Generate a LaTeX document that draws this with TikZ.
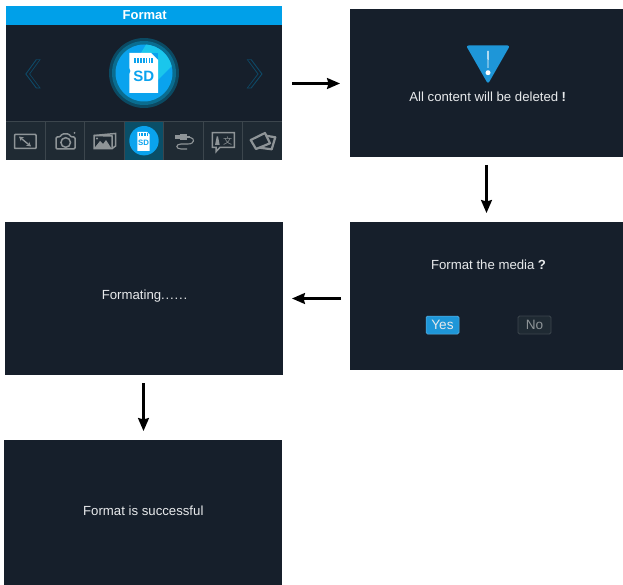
\documentclass[tikz,border=0pt]{standalone}
\usepackage{fontspec}
\setmainfont{Liberation Sans}
\newfontfamily\cjkfont{Noto Sans CJK SC}
\usetikzlibrary{arrows.meta,calc}
\definecolor{panelbg}{HTML}{161F2B}
\definecolor{titleblue}{HTML}{00A0E9}
\definecolor{stripbg}{HTML}{1F2A33}
\definecolor{stripline}{HTML}{3C464D}
\definecolor{teal}{HTML}{0A4F68}
\definecolor{ringa}{HTML}{0B4A63}
\definecolor{ringb}{HTML}{0A6D90}
\definecolor{sdblue}{HTML}{0AA3EE}
\definecolor{sdlight}{HTML}{1AC6EC}
\definecolor{iconcol}{HTML}{8E9497}
\definecolor{warnblue}{HTML}{1E96D8}
\definecolor{chev}{HTML}{0E4A68}
\definecolor{txt}{HTML}{E8EAEC}
\tikzset{
  panel/.style={fill=panelbg,draw=none,inner sep=0pt,outer sep=0pt,anchor=center},
  flow/.style={draw=black,line width=2.1pt,-{Stealth[length=13pt,width=11pt,inset=1.5pt]}},
  msg/.style={text=txt,inner sep=0pt,font=\fontsize{13.2}{15}\selectfont,anchor=base},
  btn/.style={rounded corners=1.5pt,inner sep=0pt,minimum width=33pt,minimum height=18pt,font=\fontsize{13.6}{15}\selectfont},
  ico/.style={draw=iconcol,line width=1.5pt,fill=none},
  icof/.style={fill=iconcol,draw=none},
  cell/.style={draw=stripline,line width=0.8pt}
}
\begin{document}
\begin{tikzpicture}[x=1pt,y=-1pt]
\useasboundingbox (0,0) rectangle (623,585);
\fill[white] (0,0) rectangle (623,585);
% panels
\node[panel,minimum width=276pt,minimum height=154pt] (p1) at (144,83) {};
\node[panel,minimum width=273pt,minimum height=148pt] (p2) at (486.5,83) {};
\node[panel,minimum width=273pt,minimum height=148pt] (p3) at (486.5,296) {};
\node[panel,minimum width=278pt,minimum height=153pt] (p4) at (144,298.5) {};
\node[panel,minimum width=278pt,minimum height=145pt] (p5) at (143,512.5) {};
% panel 1: title
\fill[titleblue] (6,6) rectangle (282,25);
\node[text=white,inner sep=0pt,font=\fontsize{13}{15}\selectfont\bfseries,anchor=base] (ttl) at (144.7,20) {Format};
% chevrons
\fill[chev] (36,59.3) -- (25.3,74) -- (36,88.3) -- (40.7,88.3) -- (30,74) -- (40.7,59.3) -- cycle;
\fill[panelbg] (36.8,60) -- (26.6,74) -- (36.8,87.6) -- (39.2,87.6) -- (29,74) -- (39.2,60) -- cycle;
\fill[chev] (246.7,59.3) -- (251.5,59.3) -- (262.5,74) -- (251.5,88.3) -- (246.7,88.3) -- (257.5,74) -- cycle;
\fill[panelbg] (248.2,60) -- (250.7,60) -- (261.2,74) -- (250.7,87.6) -- (248.2,87.6) -- (258.7,74) -- cycle;
% big SD icon
\fill[ringa] (144,73) circle (35);
\fill[ringb] (144,73) circle (32);
\fill[sdblue] (144,73) circle (28.5);
\fill[sdlight] (141,53) -- (146,44.6) arc (-86:-14:28.5) -- (158,80) -- (158,53) -- cycle;
\fill[white] (129.3,53) -- (151,53) -- (158,60) -- (158,93) -- (129.3,93) -- (129.3,74) -- (130.5,71) -- (129.3,68) -- cycle;
\foreach \i in {0,...,6} \fill[sdblue] ({134+\i*2.9},58) rectangle ({135.8+\i*2.9},63.5);
\node[text=sdblue,inner sep=0pt,font=\fontsize{15}{18}\selectfont\bfseries,anchor=base] (sdbig) at (143.7,82) {SD};
% strip
\fill[stripbg] (6,121) rectangle (282,160);
\fill[teal] (124.3,121) rectangle (163.7,160);
\draw[cell] (6,121.3) -- (282,121.3);
\foreach \x in {45.3,84.7,124.3,163.7,203.3,242.7} \draw[cell] (\x,121) -- (\x,160);
% icon: resize
\draw[ico,rounded corners=0.8pt] (14.5,134.5) rectangle (36,148.5);
\draw[draw=iconcol,fill=iconcol,line width=1.4pt,{Stealth[length=4.5pt,width=5pt]}-{Stealth[length=4.5pt,width=5pt]}] (19,136.5) -- (31,146.5);
% icon: camera
\draw[ico,rounded corners=1.2pt] (56,137) -- (60,137) -- (62,134) -- (69,134) -- (71,137) -- (75,137) -- (75,149) -- (56,149) -- cycle;
\draw[ico] (65.7,142.5) circle (4.8);
\fill[iconcol] (74.5,133) circle (1);
% icon: gallery
\draw[ico] (94,135.5) -- (115.5,133.5) -- (115.5,146) -- (112,148.7) -- (94,148.7) -- cycle;
\draw[ico] (94,135.5) -- (112,136) -- (112,148.7);
\fill[iconcol] (94,148.5) -- (100,141) -- (103,144) -- (106,140) -- (111.5,148.5) -- cycle;
\fill[iconcol] (97,138.5) circle (1.2);
% icon: small SD
\fill[sdblue] (144,140.7) circle (14.7);
\fill[white] (137.3,132) -- (147,132) -- (149.7,134.7) -- (149.7,151) -- (137.3,151) -- cycle;
\foreach \i in {0,...,5} \fill[sdblue] ({139+\i*1.6},133.2) rectangle ({140+\i*1.6},135.6);
\node[text=sdblue,inner sep=0pt,font=\fontsize{7.8}{10}\selectfont\bfseries,anchor=base] (sdsmall) at (143.6,145.3) {SD};
% icon: usb
\fill[iconcol] (174.5,135) rectangle (180,139.5);
\fill[iconcol] (179.5,134) rectangle (187,140.5);
\fill[iconcol] (187,136) rectangle (190,138.5);
\draw[ico,line width=1.1pt] (190,137.3) .. controls (195,138) and (195,144) .. (188,144) -- (181,144) .. controls (175.5,144) and (175.5,149) .. (181,149) -- (187,149);
% icon: language
\draw[ico] (212.3,132.7) -- (234.3,132.7) -- (234.3,147.3) -- (220,147.3) -- (216,151.7) -- (216,147.3) -- (212.3,147.3) -- cycle;
\fill[iconcol] (215,145) -- (216.7,136.5) -- (218,136.5) -- (219.7,145) -- cycle;
\node[text=iconcol,inner sep=0pt,font=\fontsize{9}{10}\cjkfont\selectfont,anchor=base] (zi) at (227.5,144.5) {文};
% icon: cards
\draw[ico,line width=2.2pt,line join=round] (262,135) -- (275.3,137.3) -- (271.7,149.3) -- (258,147.5);
\draw[ico,fill=stripbg,line width=2.2pt,line join=round] (250.7,140) -- (265,133) -- (270,143.3) -- (256,149) -- cycle;
% panel 2
\fill[warnblue,rounded corners=2.5pt] (466,45.5) -- (510,45.5) -- (488,84) -- cycle;
\fill[white] (487.3,51) -- (488.7,51) -- (488.3,68) -- (487.7,68) -- cycle;
\fill[white] (488,72.7) circle (2.5);
\node[msg] (warn) at (487.7,102) {All content will be deleted\hspace{3.4pt}{\bfseries !}};
% panel 3
\node[msg] (ask) at (488.5,269) {Format the media\hspace{3.4pt}{\bfseries ?}};
\node[btn,fill=warnblue,text=txt,draw=warnblue!70!white,line width=0.5pt] (yes) at (442.5,325) {Yes};
\node[btn,fill=stripbg,text=iconcol,draw=stripline,line width=0.8pt] (no) at (534.5,325) {No};
% panel 4, 5
\node[msg] (fmt) at (144.5,299) {Formating.\kern.8pt.\kern.8pt.\kern.8pt.\kern.8pt.\kern.8pt.};
\node[msg] (ok) at (143.3,515) {Format is successful};
% connectors
\draw[flow,shorten <=10pt,shorten >=10pt] ($(p1.east)+(0,.5)$) -- ($(p2.west)+(0,.5)$);
\draw[flow,shorten <=8pt,shorten >=9pt] (p2.south) -- (p3.north);
\draw[flow,shorten <=9pt,shorten >=9pt] (p3.west |- p4.east) -- (p4.east);
\draw[flow,shorten <=8pt,shorten >=9pt] ($(p4.south -| p5.north)+(.5,0)$) -- ($(p5.north)+(.5,0)$);
\end{tikzpicture}
\end{document}
